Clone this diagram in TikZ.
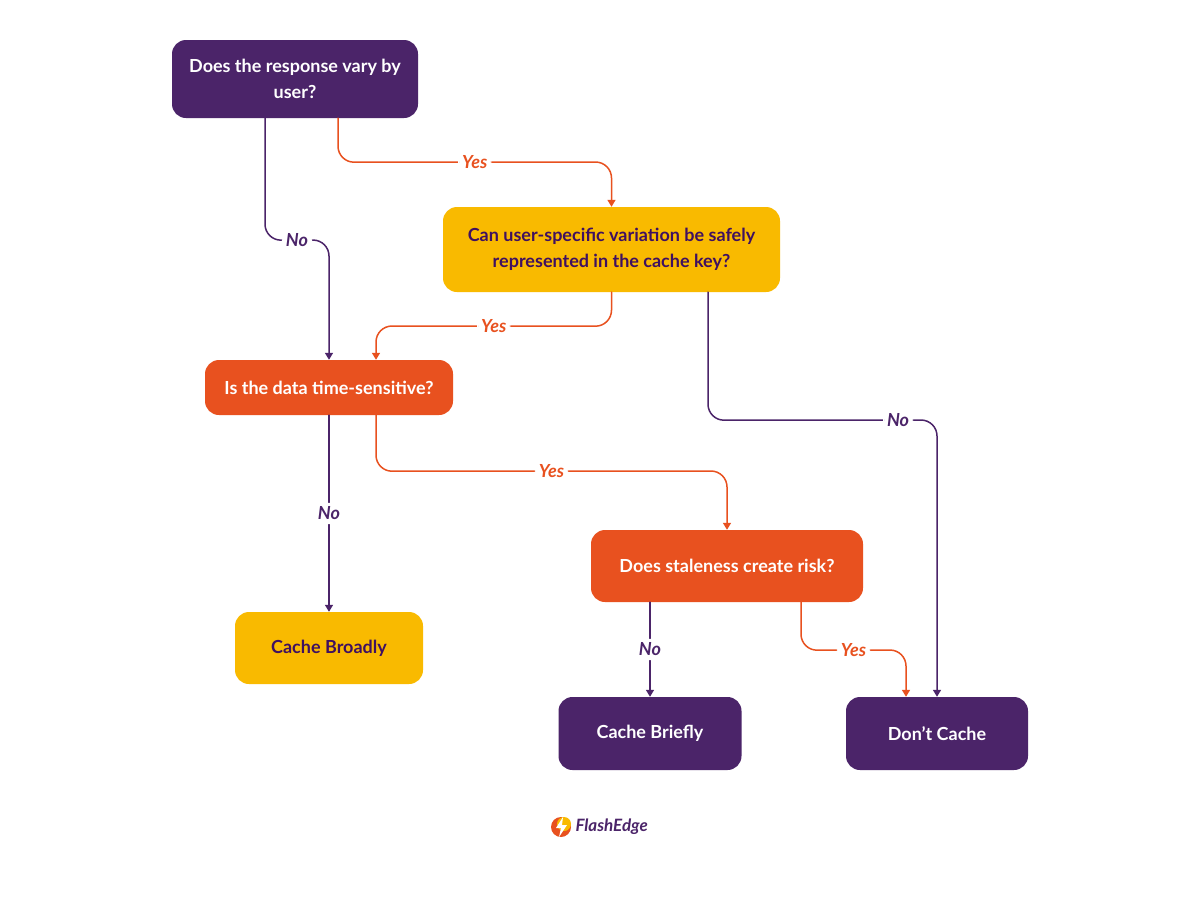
\documentclass[tikz,border=0pt]{standalone}
\usepackage{fontspec}
\setmainfont{Lato}
\usetikzlibrary{arrows.meta}
\definecolor{fePurple}{HTML}{4B2469}
\definecolor{feDark}{HTML}{3F1060}
\definecolor{feOrange}{HTML}{E8511F}
\definecolor{feYellow}{HTML}{F9BA00}

\begin{document}
\begin{tikzpicture}[x = 1pt, y = -1pt, line cap = round, line join = round,
  box/.style = {rounded corners = 14pt, align = center, font = \bfseries\fontsize{18}{26}\selectfont,
    minimum height = 56pt, inner sep = 6pt},
  link/.style = {line width = 1.5pt, rounded corners = 16pt, -{Triangle[length = 7pt, width = 8pt]}},
  lab/.style = {fill = white, font = \bfseries\itshape\fontsize{18}{18}\selectfont, inner sep = 4pt}]
  \fill[white] (0, 0) rectangle (1200, 900);
  \useasboundingbox (0, 0) rectangle (1200, 900);

  \node[box, fill = fePurple, text = white, minimum width = 246pt, minimum height = 78pt]
    (user) at (295, 79) {Does the response vary by\\user?};
  \node[box, fill = feYellow, text = feDark, minimum width = 337pt, minimum height = 85pt]
    (key) at (611.5, 249.5) {Can user-specific variation be safely\\represented in the cache key?};
  \node[box, fill = feOrange, text = white, minimum width = 248pt, minimum height = 55pt]
    (time) at (329, 387.5) {Is the data time-sensitive?};
  \node[box, fill = feOrange, text = white, minimum width = 272pt, minimum height = 72pt]
    (stale) at (727, 566) {Does staleness create risk?};
  \node[box, fill = feYellow, text = feDark, minimum width = 188pt, minimum height = 72pt]
    (broad) at (329, 648) {Cache Broadly};
  \node[box, fill = fePurple, text = white, minimum width = 183pt, minimum height = 73pt]
    (brief) at (650, 733.5) {Cache Briefly};
  \node[box, fill = fePurple, text = white, minimum width = 182pt, minimum height = 73pt]
    (never) at (937, 733.5) {Don’t Cache};

  % connectors
  \draw[link, fePurple] ([xshift = -30pt]user.south) -- ++(0, 122)
    -- node[lab] {No} (time.north |- 0, 240) -- (time.north);
  \draw[link, feOrange] ([xshift = 43pt]user.south) -- ++(0, 44)
    -- node[lab] {Yes} (key.north |- 0, 162) -- (key.north);
  \draw[link, feOrange] (key.south) -- ++(0, 34)
    -- node[lab] {Yes} ([xshift = 47pt]time.north |- 0, 326) -- ([xshift = 47pt]time.north);
  \draw[link, fePurple] ([xshift = 96.5pt]key.south) -- ++(0, 128)
    -- node[lab, pos = 0.83] {No} (never.north |- 0, 420) -- (never.north);
  \draw[link, fePurple] (time.south) -- node[lab] {No} (broad.north);
  \draw[link, feOrange] ([xshift = 47pt]time.south) -- ++(0, 56)
    -- node[lab] {Yes} (stale.north |- 0, 471) -- (stale.north);
  \draw[link, fePurple] ([xshift = -77pt]stale.south) -- node[lab] {No} (brief.north);
  \draw[link, feOrange] ([xshift = 74pt]stale.south) -- ++(0, 48)
    -- node[lab] {Yes} ([xshift = -31pt]never.north |- 0, 650) -- ([xshift = -31pt]never.north);

  % logo
  \fill[feOrange] (561, 827) circle (10);
  \fill[feYellow] (564, 824) circle (7);
  \fill[white] (563, 817) -- (556, 828) -- (561, 828) -- (559, 837) -- (567, 825) -- (562, 825) -- cycle;
  \node[font = \bfseries\itshape\fontsize{17}{17}\selectfont, text = fePurple, anchor = west]
    (brand) at (572, 827) {FlashEdge};
\end{tikzpicture}
\end{document}
